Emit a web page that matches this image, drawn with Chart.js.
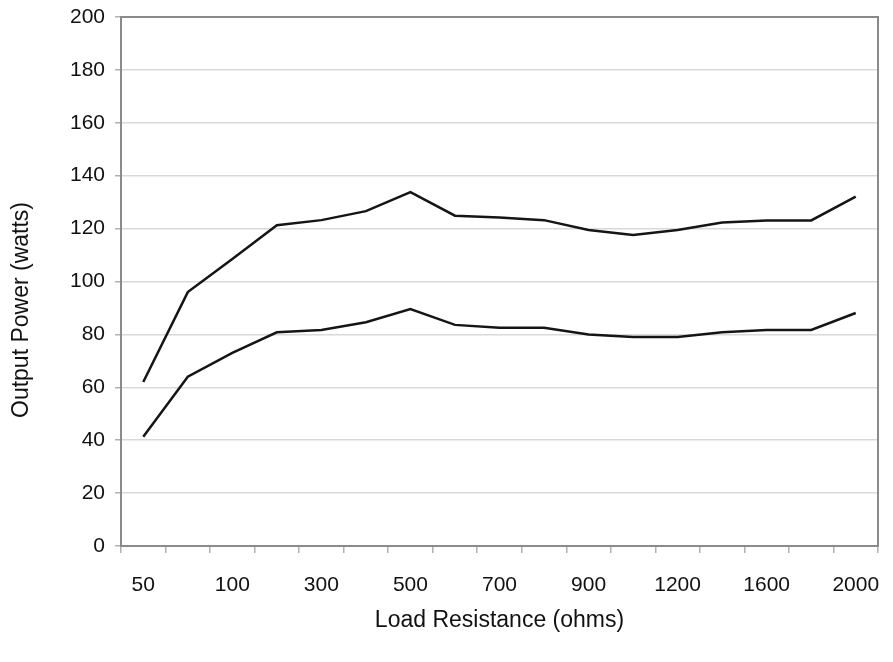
<!DOCTYPE html>
<html>
<head>
<meta charset="utf-8">
<script src="https://cdn.jsdelivr.net/npm/chart.js@4/dist/chart.umd.min.js"></script>
<style>
  html, body { margin: 0; padding: 0; background: #fff; }
  #wrap { width: 893px; height: 662px; position: relative; }
</style>
</head>
<body>
<div id="wrap"><canvas id="powerChart"></canvas></div>
<script>
// load resistance steps (ohms) - only every other one gets a label
const resistances = ['50', '75', '100', '200', '300', '400', '500', '600', '700', '800', '900', '1000', '1200', '1400', '1600', '1800', '2000'];
const upperPower = [62, 96, 108.5, 121.3, 123.2, 126.6, 133.8, 124.9, 124.2, 123.2, 119.5, 117.6, 119.5, 122.3, 123.1, 123.1, 132.1];
const lowerPower = [41.3, 64, 73, 80.8, 81.7, 84.6, 89.6, 83.6, 82.5, 82.5, 80, 79, 79, 80.8, 81.7, 81.7, 88.1];
const yTicks = [0, 20, 40, 60, 80, 100, 120, 140, 160, 180, 200];

const FONT = "'Liberation Sans', Arial, sans-serif";

// frame around plot + axis titles placed like the original
const framePlugin = {
    id: 'frame',
    afterDraw(chart) {
        const { ctx, chartArea: a } = chart;
        ctx.save();
        ctx.strokeStyle = '#8a8a8a';
        ctx.lineWidth = 2;
        ctx.strokeRect(a.left, a.top, a.right - a.left, a.bottom - a.top);

        ctx.fillStyle = '#111';
        ctx.font = '23px ' + FONT;
        ctx.textAlign = 'center';
        ctx.textBaseline = 'middle';
        ctx.fillText('Load Resistance (ohms)', (a.left + a.right) / 2, 621);

        ctx.translate(22, 310);
        ctx.rotate(-Math.PI / 2);
        ctx.fillText('Output Power (watts)', 0, 0);
        ctx.restore();
    }
};

new Chart(document.getElementById('powerChart'), {
    type: 'line',
    data: {
        labels: resistances,
        datasets: [
            { label: 'Upper', data: upperPower, borderColor: '#151515', borderWidth: 2.5, pointRadius: 0, tension: 0, fill: false },
            { label: 'Lower', data: lowerPower, borderColor: '#151515', borderWidth: 2.5, pointRadius: 0, tension: 0, fill: false }
        ]
    },
    options: {
        responsive: true,
        maintainAspectRatio: false,
        animation: false,
        layout: { padding: { top: 17, right: 15, left: 0, bottom: 0 } },
        plugins: { legend: { display: false }, tooltip: { enabled: false } },
        scales: {
            x: {
                offset: true,
                grid: { offset: true, drawOnChartArea: false, drawTicks: true, tickLength: 7, tickColor: '#b0b0b0', lineWidth: 1.5 },
                border: { color: '#8a8a8a', width: 2 },
                ticks: {
                    autoSkip: false,
                    maxRotation: 0,
                    padding: 20,
                    color: '#111',
                    font: { family: FONT, size: 21 },
                    callback: (v, i) => (i % 2 === 0 ? resistances[i] : '')
                },
                afterFit: s => { s.height = 116; s.paddingLeft = 0; s.paddingRight = 0; }
            },
            y: {
                min: 0,
                max: 200,
                afterBuildTicks: s => { s.ticks = yTicks.map(v => ({ value: v })); },
                grid: { color: '#d9d9d9', lineWidth: 1.5, tickLength: 6, tickColor: '#b0b0b0' },
                border: { color: '#8a8a8a', width: 2 },
                ticks: { padding: 10, color: '#111', font: { family: FONT, size: 21 } },
                afterFit: s => { s.width = 121; s.paddingTop = 0; s.paddingBottom = 0; }
            }
        }
    },
    plugins: [framePlugin]
});
</script>
</body>
</html>
